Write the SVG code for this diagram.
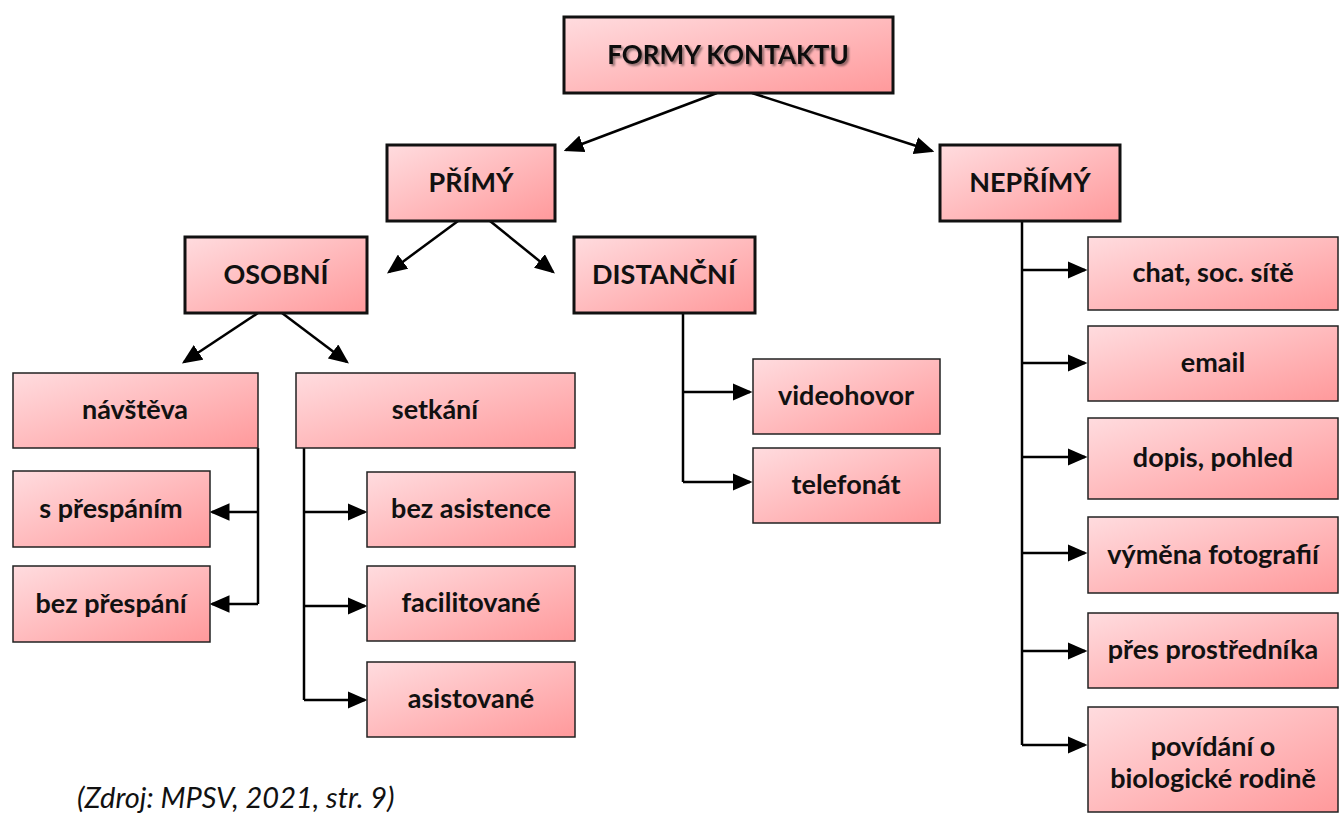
<svg xmlns="http://www.w3.org/2000/svg" width="1339" height="816" viewBox="0 0 1339 816">
<style>
.b1{fill:url(#g);stroke:#111;stroke-width:3}
.b2{fill:url(#g);stroke:#222;stroke-width:1.5}
text{font-family:Lato,"Liberation Sans",sans-serif;font-weight:bold;font-size:27px;fill:#111;text-anchor:middle}
.t{font-size:26px}
.c{fill:none;stroke:#000;stroke-width:2.5}
.cap{font-weight:normal;font-style:italic;text-anchor:start;font-size:29px;fill:#111}
</style>
<defs>
<linearGradient id="g" x1="0" y1="0" x2="1" y2="1">
<stop offset="0" stop-color="#FFDCDF"/>
<stop offset="1" stop-color="#FF999B"/>
</linearGradient>
<marker id="a" markerWidth="8" markerHeight="7" refX="7" refY="3.5" orient="auto" markerUnits="strokeWidth">
<path d="M0,0 L8,3.5 L0,7 z" fill="#000"/>
</marker>
<filter id="ts" x="-10%" y="-30%" width="120%" height="160%">
<feGaussianBlur in="SourceAlpha" stdDeviation="1.2"/>
<feOffset dx="1.5" dy="1.5" result="o"/>
<feFlood flood-color="#000" flood-opacity="0.45"/>
<feComposite in2="o" operator="in"/>
<feMerge><feMergeNode/><feMergeNode in="SourceGraphic"/></feMerge>
</filter>
</defs>
<g id="connectors">
<path class="c" d="M717,93 L566,150" marker-end="url(#a)"/>
<path class="c" d="M752,93 L932,151" marker-end="url(#a)"/>
<path class="c" d="M458,221 L389,272" marker-end="url(#a)"/>
<path class="c" d="M490,221 L553,272" marker-end="url(#a)"/>
<path class="c" d="M258,313 L184,362" marker-end="url(#a)"/>
<path class="c" d="M282,313 L347,362" marker-end="url(#a)"/>
<path class="c" d="M258,448 V604"/>
<path class="c" d="M258,512 H212" marker-end="url(#a)"/>
<path class="c" d="M258,604 H212" marker-end="url(#a)"/>
<path class="c" d="M304,448 V700"/>
<path class="c" d="M304,512 H365" marker-end="url(#a)"/>
<path class="c" d="M304,606 H365" marker-end="url(#a)"/>
<path class="c" d="M304,700 H365" marker-end="url(#a)"/>
<path class="c" d="M683,313 V482"/>
<path class="c" d="M683,392 H750" marker-end="url(#a)"/>
<path class="c" d="M683,482 H750" marker-end="url(#a)"/>
<path class="c" d="M1022,221 V745"/>
<path class="c" d="M1022,270 H1085" marker-end="url(#a)"/>
<path class="c" d="M1022,363 H1085" marker-end="url(#a)"/>
<path class="c" d="M1022,457 H1085" marker-end="url(#a)"/>
<path class="c" d="M1022,553 H1085" marker-end="url(#a)"/>
<path class="c" d="M1022,651 H1085" marker-end="url(#a)"/>
<path class="c" d="M1022,745 H1085" marker-end="url(#a)"/>
</g>
<g id="formy"><rect class="b1" x="564" y="17" width="329" height="76"/><text class="t" x="728" y="55" dy="0.35em" filter="url(#ts)">FORMY KONTAKTU</text></g>
<g id="primy"><rect class="b1" x="387" y="145" width="168" height="76"/><text x="471" y="183" dy="0.35em">PŘÍMÝ</text></g>
<g id="neprimy"><rect class="b1" x="940" y="145" width="180" height="76"/><text x="1030" y="183" dy="0.35em">NEPŘÍMÝ</text></g>
<g id="osobni"><rect class="b1" x="185" y="237" width="182" height="76"/><text x="276" y="275" dy="0.35em">OSOBNÍ</text></g>
<g id="distancni"><rect class="b1" x="574" y="237" width="181" height="76"/><text x="664" y="275" dy="0.35em">DISTANČNÍ</text></g>
<g id="navsteva"><rect class="b2" x="13" y="373" width="245" height="75"/><text x="135" y="410" dy="0.35em">návštěva</text></g>
<g id="setkani"><rect class="b2" x="296" y="373" width="279" height="75"/><text x="435" y="410" dy="0.35em">setkání</text></g>
<g id="sprespanim"><rect class="b2" x="13" y="471" width="197" height="76"/><text x="111" y="509" dy="0.35em">s přespáním</text></g>
<g id="bezprespani"><rect class="b2" x="13" y="566" width="197" height="76"/><text x="111" y="604" dy="0.35em">bez přespání</text></g>
<g id="bezasistence"><rect class="b2" x="367" y="472" width="208" height="75"/><text x="471" y="509" dy="0.35em">bez asistence</text></g>
<g id="facilitovane"><rect class="b2" x="367" y="566" width="208" height="75"/><text x="471" y="603" dy="0.35em">facilitované</text></g>
<g id="asistovane"><rect class="b2" x="367" y="662" width="208" height="75"/><text x="471" y="699" dy="0.35em">asistované</text></g>
<g id="videohovor"><rect class="b2" x="753" y="359" width="187" height="75"/><text x="846" y="396" dy="0.35em">videohovor</text></g>
<g id="telefonat"><rect class="b2" x="753" y="448" width="187" height="75"/><text x="846" y="485" dy="0.35em">telefonát</text></g>
<g id="chat"><rect class="b2" x="1088" y="237" width="250" height="73"/><text x="1213" y="273" dy="0.35em">chat, soc. sítě</text></g>
<g id="email"><rect class="b2" x="1088" y="326" width="250" height="75"/><text x="1213" y="363" dy="0.35em">email</text></g>
<g id="dopis"><rect class="b2" x="1088" y="418" width="250" height="81"/><text x="1213" y="458" dy="0.35em">dopis, pohled</text></g>
<g id="vymena"><rect class="b2" x="1088" y="517" width="250" height="76"/><text x="1213" y="555" dy="0.35em">výměna fotografií</text></g>
<g id="pres"><rect class="b2" x="1088" y="613" width="250" height="75"/><text x="1213" y="650" dy="0.35em">přes prostředníka</text></g>
<g id="povidani"><rect class="b2" x="1088" y="707" width="250" height="105"/><text x="1213" y="756">povídání o</text><text x="1213" y="788">biologické rodině</text></g>
<text class="cap" x="77" y="808">(Zdroj: MPSV, 2021, str. 9)</text>
</svg>
